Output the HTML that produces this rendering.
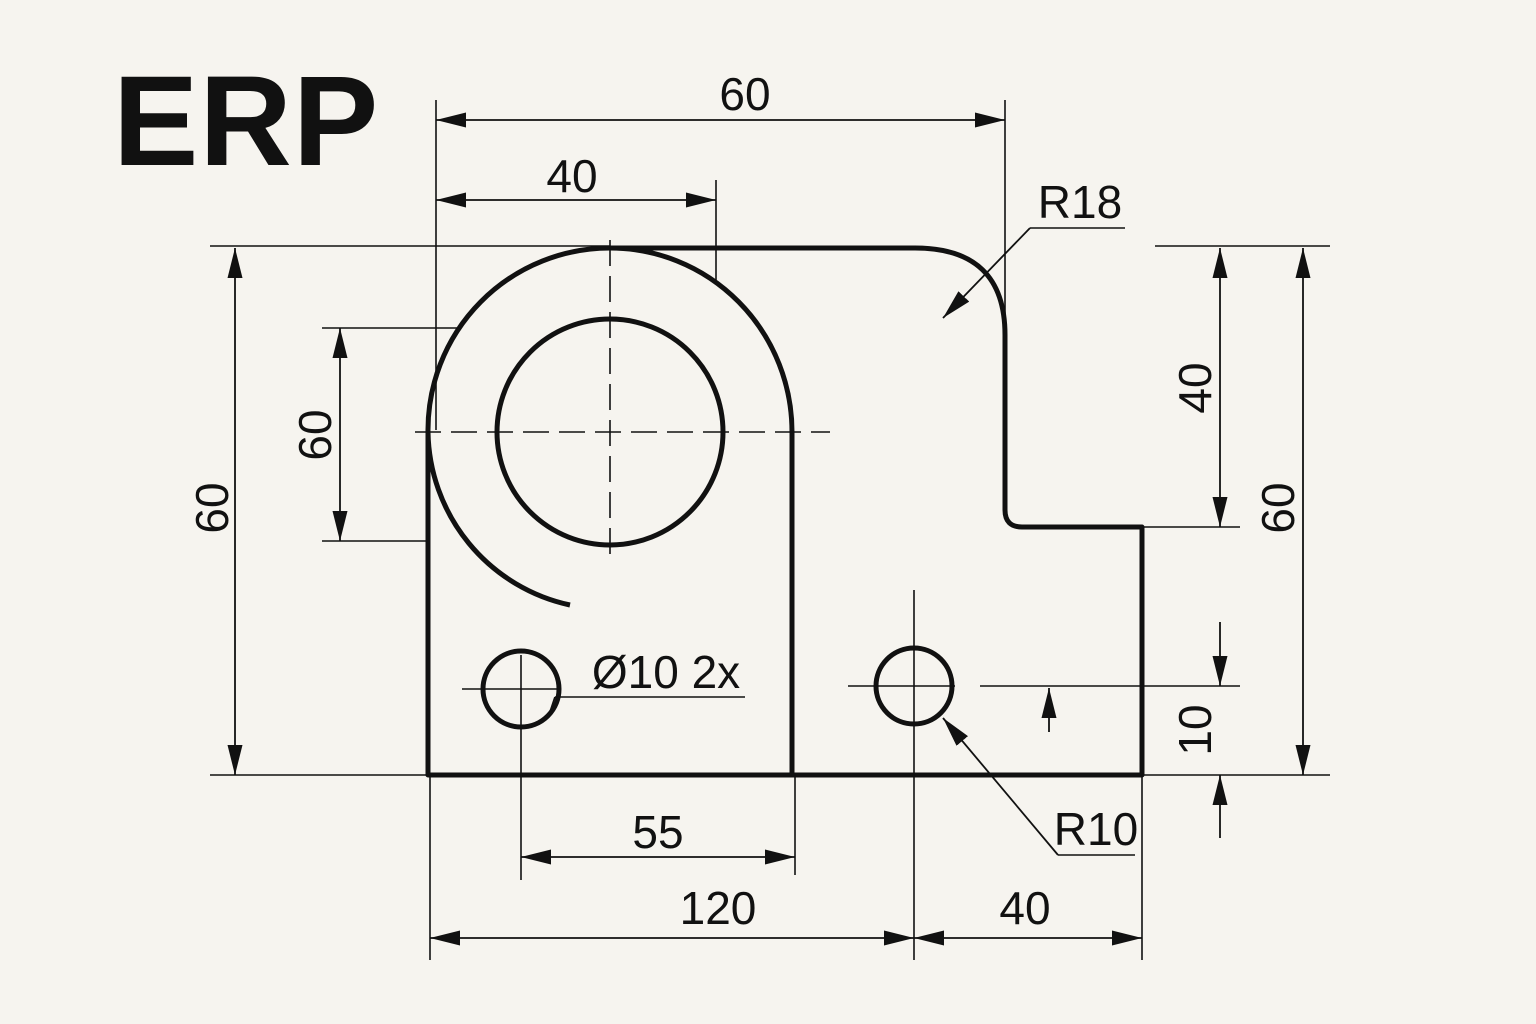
<!DOCTYPE html>
<html><head><meta charset="utf-8"><style>
html,body{margin:0;padding:0;background:#f6f4ef;}
svg{display:block;}
text{font-family:"Liberation Sans","DejaVu Sans",sans-serif;fill:#111;}
</style></head><body>
<svg width="1536" height="1024" viewBox="0 0 1536 1024" xmlns="http://www.w3.org/2000/svg">
<defs>
<marker id="a" viewBox="0 0 20 10" refX="20" refY="5" markerWidth="30" markerHeight="15" markerUnits="userSpaceOnUse" orient="auto-start-reverse">
<path d="M0,0 L20,5 L0,10 Z" fill="#111"/>
</marker>
</defs>
<rect width="1536" height="1024" fill="#f6f4ef"/>
<text x="113" y="165" font-size="128" font-weight="bold" style="letter-spacing:1px">ERP</text>

<g fill="none" stroke="#111" stroke-width="5" stroke-linejoin="round">
<path d="M570,605 A180,180 0 0 1 428,432 A182,182 0 0 1 610,248 L915,248 Q1005,248 1005,335 L1005,510 Q1005,527 1022,527 L1142,527 L1142,775 L428,775 L428,432"/>
<path d="M610,248 A182,184 0 0 1 792,432 L792,775"/>
<circle cx="610" cy="432" r="113"/>
<circle cx="521" cy="689" r="38"/>
<circle cx="914" cy="686" r="38"/>
</g>

<g stroke="#111" stroke-width="1.6" fill="none">
<path d="M415,432 H830" stroke-dasharray="26,10"/>
<path d="M610,240 V555" stroke-dasharray="26,10"/>
<path d="M462,689 H560"/>
<path d="M521,655 V880"/>
<path d="M848,686 H955"/>
<path d="M980,686 H1240"/>
<path d="M914,590 V960"/>
<path d="M436,100 V430"/>
<path d="M1005,100 V330"/>
<path d="M716,180 V280"/>
<path d="M210,246 H610"/>
<path d="M210,775 H428"/>
<path d="M322,328 H460"/>
<path d="M322,541 H428"/>
<path d="M1155,246 H1330"/>
<path d="M1142,527 H1240"/>
<path d="M1142,775 H1330"/>
<path d="M795,775 V875"/>
<path d="M430,775 V960"/>
<path d="M1142,775 V960"/>
<path d="M555,697 H745"/>
<path d="M1058,855 H1135"/>
<path d="M1030,228 H1125"/>
</g>

<g stroke="#111" stroke-width="1.8" fill="none">
<path d="M436,120 H1005" marker-start="url(#a)" marker-end="url(#a)"/>
<path d="M436,200 H716" marker-start="url(#a)" marker-end="url(#a)"/>
<path d="M235,248 V775" marker-start="url(#a)" marker-end="url(#a)"/>
<path d="M340,328 V541" marker-start="url(#a)" marker-end="url(#a)"/>
<path d="M1220,248 V527" marker-start="url(#a)" marker-end="url(#a)"/>
<path d="M1303,248 V775" marker-start="url(#a)" marker-end="url(#a)"/>
<path d="M1220,622 V686" marker-end="url(#a)"/>
<path d="M1220,838 V775" marker-end="url(#a)"/>
<path d="M1049,732 V688" marker-end="url(#a)"/>
<path d="M521,857 H795" marker-start="url(#a)" marker-end="url(#a)"/>
<path d="M430,938 H914" marker-start="url(#a)" marker-end="url(#a)"/>
<path d="M914,938 H1142" marker-start="url(#a)" marker-end="url(#a)"/>
<path d="M1058,855 L943,718" marker-end="url(#a)"/>
<path d="M1030,228 L943,318" marker-end="url(#a)"/>
<path d="M555,697 L548,718"/>
</g>

<g font-size="46" text-anchor="middle">
<text x="745" y="110">60</text>
<text x="572" y="192">40</text>
<text x="658" y="848">55</text>
<text x="718" y="924">120</text>
<text x="1025" y="924">40</text>
<text x="1080" y="218">R18</text>
<text x="1096" y="845">R10</text>
<text x="666" y="688">Ø10 2x</text>
<text transform="translate(228,508) rotate(-90)">60</text>
<text transform="translate(331,435) rotate(-90)">60</text>
<text transform="translate(1211,388) rotate(-90)">40</text>
<text transform="translate(1294,508) rotate(-90)">60</text>
<text transform="translate(1211,730) rotate(-90)">10</text>
</g>
</svg>
</body></html>
